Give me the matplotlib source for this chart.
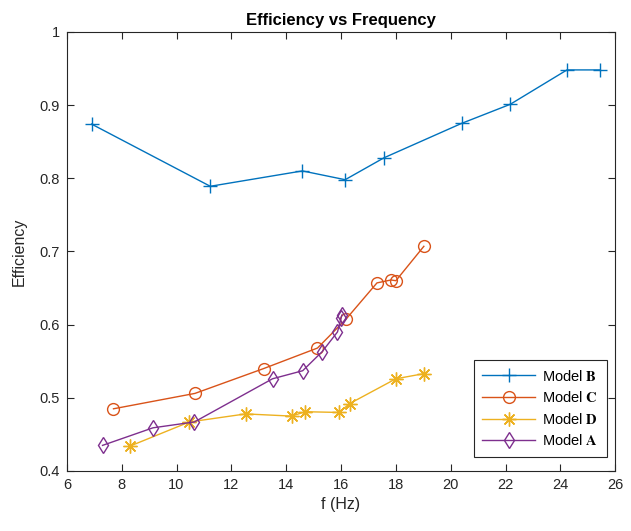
import matplotlib.pyplot as plt

plt.rcParams['font.family'] = ['Liberation Sans', 'DejaVu Sans']
plt.rcParams['mathtext.fontset'] = 'stix'

# Model B
b_f = [6.90, 11.23, 14.59, 16.15, 17.57, 20.40, 22.17, 24.24, 25.44]
b_eff = [0.874, 0.789, 0.810, 0.798, 0.828, 0.875, 0.901, 0.948, 0.948]

# Model C
c_f = [7.70, 10.67, 13.18, 15.14, 16.17, 17.31, 17.82, 18.00, 19.02]
c_eff = [0.485, 0.506, 0.540, 0.568, 0.607, 0.657, 0.661, 0.660, 0.707]

# Model D
d_f = [8.30, 10.47, 12.52, 14.20, 14.69, 15.93, 16.31, 18.00, 19.02]
d_eff = [0.434, 0.467, 0.478, 0.475, 0.481, 0.480, 0.492, 0.526, 0.533]

# Model A
a_f = [7.30, 9.14, 10.65, 13.50, 14.60, 15.31, 15.87, 16.00, 16.03]
a_eff = [0.435, 0.459, 0.467, 0.526, 0.537, 0.563, 0.590, 0.609, 0.613]

fig = plt.figure(figsize=(6.31, 5.31), dpi=100)
ax = fig.add_axes([0.106, 0.113, 0.869, 0.827])

ax.plot(b_f, b_eff, '-+', color='#0072BD', lw=1, ms=10, mew=1, label=r'Model $\mathbf{B}$')
ax.plot(c_f, c_eff, '-o', color='#D95319', lw=1, ms=8.5, mew=1, mfc='none', label=r'Model $\mathbf{C}$')
ax.plot(d_f, d_eff, '-', marker=(8, 2, 0), color='#EDB120', lw=1, ms=10, mew=1, label=r'Model $\mathbf{D}$')
ax.plot(a_f, a_eff, '-d', color='#7E2F8E', lw=1, ms=8.5, mew=1, mfc='none', label=r'Model $\mathbf{A}$')

ax.set_xlim(6, 26)
ax.set_ylim(0.4, 1.0)
ax.set_xticks(range(6, 27, 2))
ax.set_yticks([0.4, 0.5, 0.6, 0.7, 0.8, 0.9, 1.0])
ax.set_yticklabels(['0.4', '0.5', '0.6', '0.7', '0.8', '0.9', '1'])

edge = '#262626'
for s in ax.spines.values():
    s.set_color(edge)
    s.set_linewidth(0.8)
ax.tick_params(direction='in', top=True, right=True, length=5, width=0.8,
               colors=edge, labelsize=10.5, pad=5)

ax.set_title('Efficiency vs Frequency', fontsize=12, fontweight='bold', pad=5)
ax.set_xlabel('f (Hz)', fontsize=11.5, color=edge)
ax.set_ylabel('Efficiency', fontsize=11.5, color=edge, labelpad=9)

leg = ax.legend(loc='lower right', fontsize=10.5, fancybox=False, framealpha=1,
                edgecolor=edge, bbox_to_anchor=(0.985, 0.032), borderaxespad=0,
                handlelength=3.6, handletextpad=0.5,
                labelspacing=0.45, borderpad=0.6)
leg.get_frame().set_linewidth(0.8)

fig.savefig('out.png', dpi=100)
